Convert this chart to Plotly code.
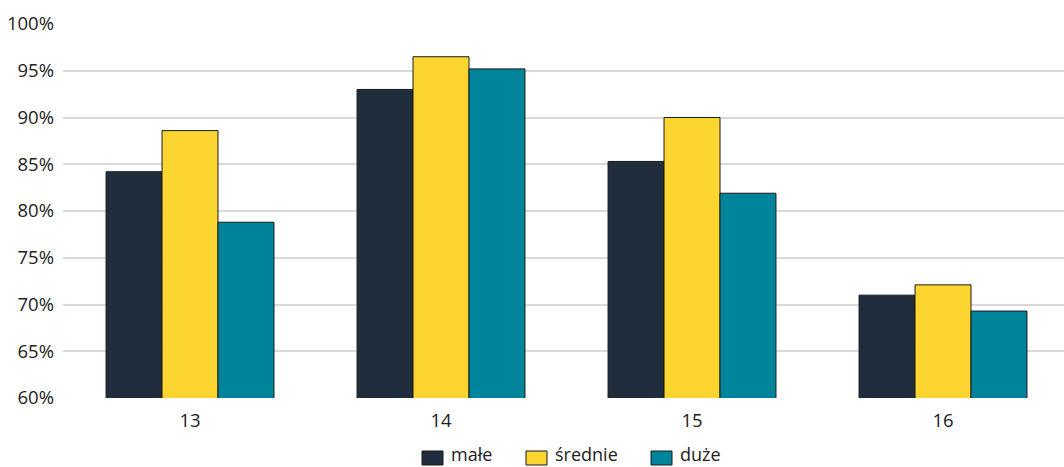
import plotly.graph_objects as go

categories = ["13", "14", "15", "16"]
male = [84.2, 93.0, 85.3, 71.0]
srednie = [88.6, 96.5, 90.0, 72.1]
duze = [78.8, 95.2, 81.9, 69.3]
series_names = ["małe", "średnie", "duże"]
colors = ["#1f2d3d", "#fdd530", "#00849c"]

W, H = 1064, 467
ML, MR, MT, MB = 63, 0, 24, 69
PW, PH = W - ML - MR, H - MT - MB

def px_x(p):
    return (p - ML) / PW

def px_y(p):
    return (H - MB - p) / PH

fig = go.Figure()
for name, vals, col in zip(series_names, [male, srednie, duze], colors):
    fig.add_trace(go.Bar(
        x=categories, y=[v / 100 for v in vals], name=name, showlegend=False,
        marker=dict(color=col, line=dict(color="#1a1a1a", width=1)),
    ))

# custom legend (swatch + label)
legend_swatch_x = [422, 526, 651]
for name, col, sx in zip(series_names, colors, legend_swatch_x):
    fig.add_shape(type="rect", xref="paper", yref="paper",
                  x0=px_x(sx), x1=px_x(sx + 21), y0=px_y(465), y1=px_y(451),
                  fillcolor=col, line=dict(color="#1a1a1a", width=1))
    fig.add_annotation(xref="paper", yref="paper", x=px_x(sx + 28), y=px_y(466.5),
                       xanchor="left", yanchor="bottom", text=name, showarrow=False,
                       borderpad=0, font=dict(size=18, color="#222222"))

fig.update_layout(
    width=W, height=H,
    margin=dict(l=ML, r=MR, t=MT, b=MB, autoexpand=False),
    paper_bgcolor="white", plot_bgcolor="white",
    barmode="group", bargap=0.331, bargroupgap=0,
    font=dict(family="Open Sans", size=18.5, color="#222222"),
    xaxis=dict(type="category", range=[-0.506, 3.482],
               showgrid=False, showline=False, ticks="",
               tickfont=dict(size=18.5), automargin=False, ticklabelstandoff=9),
    yaxis=dict(range=[0.6, 1.0], dtick=0.05, tickformat=".0%",
               showgrid=True, gridcolor="#d9d9d9", gridwidth=2,
               zeroline=False, showline=False, ticks="", ticklen=0,
               tickfont=dict(size=18.5), automargin=False, ticklabelstandoff=8),
    showlegend=False,
)
fig.write_html("out.html")
